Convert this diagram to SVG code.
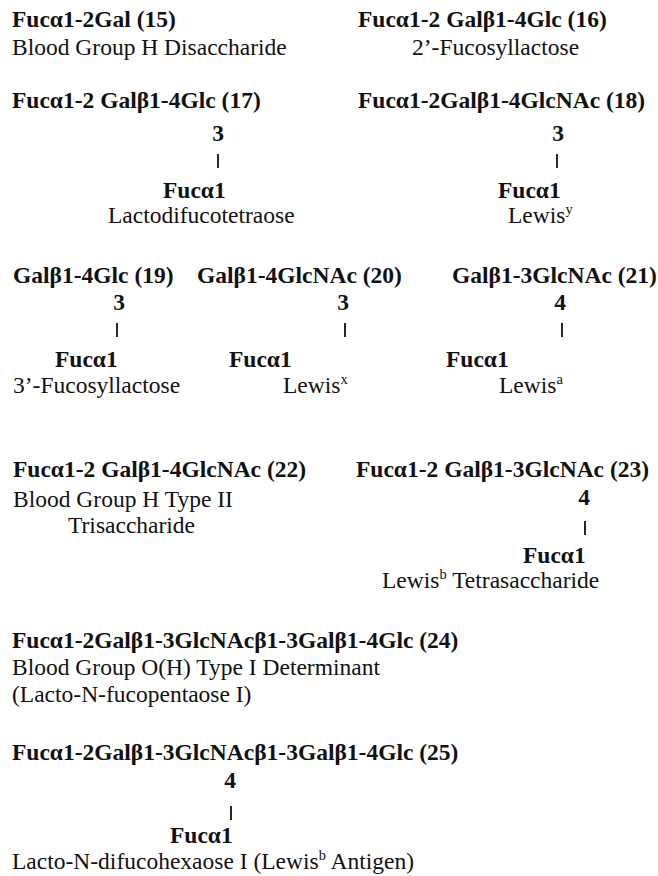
<svg xmlns="http://www.w3.org/2000/svg" width="658" height="876" viewBox="0 0 658 876">
<style>
text{font-family:"Liberation Serif","Times New Roman",serif;font-size:23.5px;fill:#111111}
.b{font-weight:bold}
.n{font-weight:bold;text-anchor:middle}
.sup{font-size:14.5px}
.bond{stroke:#111111;stroke-width:1.8;fill:none}
</style>
<rect width="658" height="876" fill="#ffffff"/>
<g id="s15">
<text class="b" x="12" y="27">Fucα1-2Gal (15)</text>
<text x="12" y="55">Blood Group H Disaccharide</text>
</g>
<g id="s16">
<text class="b" x="358" y="27">Fucα1-2 Galβ1-4Glc (16)</text>
<text x="412" y="55">2’-Fucosyllactose</text>
</g>
<g id="s17">
<text class="b" x="12" y="108">Fucα1-2 Galβ1-4Glc (17)</text>
<text class="n" x="218" y="141">3</text>
<text class="b" x="163" y="198">Fucα1</text>
<text x="108" y="223">Lactodifucotetraose</text>
</g>
<g id="s18">
<text class="b" x="358" y="108">Fucα1-2Galβ1-4GlcNAc (18)</text>
<text class="n" x="558" y="141">3</text>
<text class="b" x="498" y="198">Fucα1</text>
<text x="508" y="223">Lewis<tspan class="sup" dy="-9">y</tspan></text>
</g>
<g id="s19">
<text class="b" x="13" y="283">Galβ1-4Glc (19)</text>
<text class="n" x="119" y="310">3</text>
<text class="b" x="55" y="367">Fucα1</text>
<text x="13" y="393">3’-Fucosyllactose</text>
</g>
<g id="s20">
<text class="b" x="197" y="283">Galβ1-4GlcNAc (20)</text>
<text class="n" x="343" y="310">3</text>
<text class="b" x="229" y="367">Fucα1</text>
<text x="283" y="393">Lewis<tspan class="sup" dy="-9">x</tspan></text>
</g>
<g id="s21">
<text class="b" x="452" y="283">Galβ1-3GlcNAc (21)</text>
<text class="n" x="560" y="310">4</text>
<text class="b" x="446" y="367">Fucα1</text>
<text x="499" y="393">Lewis<tspan class="sup" dy="-9">a</tspan></text>
</g>
<g id="s22">
<text class="b" x="13" y="477">Fucα1-2 Galβ1-4GlcNAc (22)</text>
<text x="13" y="507">Blood Group H Type II</text>
<text x="68" y="533">Trisaccharide</text>
</g>
<g id="s23">
<text class="b" x="356" y="477">Fucα1-2 Galβ1-3GlcNAc (23)</text>
<text class="n" x="584" y="505">4</text>
<text class="b" x="523" y="563">Fucα1</text>
<text x="382" y="588">Lewis<tspan class="sup" dy="-9">b</tspan><tspan dy="9"> Tetrasaccharide</tspan></text>
</g>
<g id="s24">
<text class="b" x="12" y="648">Fucα1-2Galβ1-3GlcNAcβ1-3Galβ1-4Glc (24)</text>
<text x="12" y="675">Blood Group O(H) Type I Determinant</text>
<text x="12" y="702">(Lacto-N-fucopentaose I)</text>
</g>
<g id="s25">
<text class="b" x="12" y="760">Fucα1-2Galβ1-3GlcNAcβ1-3Galβ1-4Glc (25)</text>
<text class="n" x="230" y="788">4</text>
<text class="b" x="170" y="843">Fucα1</text>
<text x="12" y="869">Lacto-N-difucohexaose I (Lewis<tspan class="sup" dy="-9">b</tspan><tspan dy="9"> Antigen)</tspan></text>
</g>
<g id="connectors">
<line class="bond" x1="218" y1="154" x2="218" y2="168"/>
<line class="bond" x1="557" y1="154" x2="557" y2="168"/>
<line class="bond" x1="117" y1="323" x2="117" y2="337"/>
<line class="bond" x1="345" y1="323" x2="345" y2="337"/>
<line class="bond" x1="562" y1="323" x2="562" y2="337"/>
<line class="bond" x1="585" y1="521" x2="585" y2="535"/>
<line class="bond" x1="231" y1="806" x2="231" y2="820"/>
</g>
</svg>
